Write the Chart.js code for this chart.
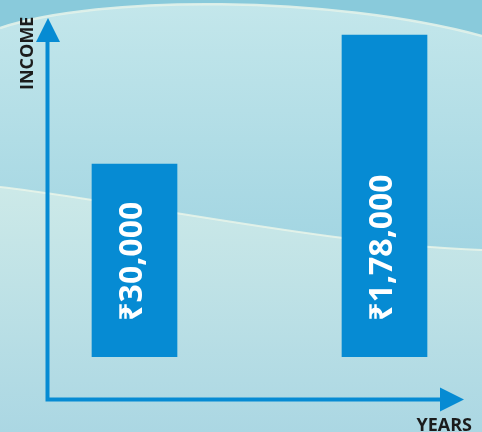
<!DOCTYPE html>
<html>
<head>
<meta charset="utf-8">
<script src="https://cdn.jsdelivr.net/npm/chart.js@4/dist/chart.umd.min.js"></script>
<style>
  html, body { margin: 0; padding: 0; background: #b4dde6; }
  canvas { display: block; }
</style>
</head>
<body>
<canvas id="incomeChart" width="482" height="432"></canvas>
<script>
let categories = ["Before", "After"];
let incomeValues = [30000, 178000];
let valueLabels = ["₹30,000", "₹1,78,000"];
let axisTitles = ["INCOME", "YEARS"];

const blue = "#068bd3";

// wavy light-blue backdrop
const backdrop = {
  id: "backdrop",
  beforeDraw(chart) {
    const ctx = chart.ctx;
    const w = chart.width, h = chart.height;
    ctx.save();

    let g = ctx.createLinearGradient(0, 0, 0, 250);
    g.addColorStop(0, "#c4e7eb");
    g.addColorStop(1, "#a2d5e2");
    ctx.fillStyle = g;
    ctx.fillRect(0, 0, w, h);

    // lower wave
    ctx.beginPath();
    ctx.moveTo(0, 187);
    ctx.bezierCurveTo(150, 205, 330, 245, w, 250);
    ctx.lineTo(w, h);
    ctx.lineTo(0, h);
    ctx.closePath();
    g = ctx.createLinearGradient(0, 190, 0, h);
    g.addColorStop(0, "#cce9e8");
    g.addColorStop(1, "#abd7e3");
    ctx.fillStyle = g;
    ctx.fill();

    ctx.beginPath();
    ctx.moveTo(0, 187);
    ctx.bezierCurveTo(150, 205, 330, 245, w, 250);
    ctx.strokeStyle = "rgba(236,246,234,0.8)";
    ctx.lineWidth = 2;
    ctx.stroke();

    // top band
    ctx.beginPath();
    ctx.moveTo(0, 28);
    ctx.bezierCurveTo(100, -5, 330, -5, w, 36);
    ctx.lineTo(w, 0);
    ctx.lineTo(0, 0);
    ctx.closePath();
    ctx.fillStyle = "#89cadb";
    ctx.fill();

    ctx.beginPath();
    ctx.moveTo(0, 28);
    ctx.bezierCurveTo(100, -5, 330, -5, w, 36);
    ctx.strokeStyle = "rgba(226,242,234,0.9)";
    ctx.lineWidth = 2.5;
    ctx.stroke();

    ctx.restore();
  },
};

// arrows, axis titles and the rotated value labels
const decorations = {
  id: "decorations",
  afterDatasetsDraw(chart) {
    const ctx = chart.ctx;
    ctx.save();

    ctx.strokeStyle = blue;
    ctx.fillStyle = blue;
    ctx.lineWidth = 4;
    ctx.beginPath();
    ctx.moveTo(47.5, 401.5);
    ctx.lineTo(47.5, 40);
    ctx.moveTo(45.5, 399.5);
    ctx.lineTo(442, 399.5);
    ctx.stroke();

    ctx.beginPath();
    ctx.moveTo(36, 42);
    ctx.lineTo(60, 42);
    ctx.lineTo(48, 18);
    ctx.closePath();
    ctx.fill();

    ctx.beginPath();
    ctx.moveTo(440, 387.5);
    ctx.lineTo(440, 411.5);
    ctx.lineTo(464, 399.5);
    ctx.closePath();
    ctx.fill();

    ctx.fillStyle = "#1c1c1c";
    ctx.font = "bold 18px 'Open Sans', 'Noto Sans', sans-serif";
    ctx.textBaseline = "alphabetic";
    ctx.save();
    ctx.translate(33, 90);
    ctx.rotate(-Math.PI / 2);
    ctx.textAlign = "left";
    ctx.fillText(axisTitles[0], 0, 0);
    ctx.restore();
    ctx.textAlign = "right";
    ctx.fillText(axisTitles[1], 472, 431);

    const meta = chart.getDatasetMeta(0);
    ctx.fillStyle = "#ffffff";
    ctx.font = "bold 32px 'Noto Sans', 'Open Sans', sans-serif";
    ctx.textAlign = "left";
    meta.data.forEach((bar, i) => {
      ctx.save();
      ctx.translate(bar.x + 7.5, bar.base - 36);
      ctx.rotate(-Math.PI / 2);
      ctx.fillText(valueLabels[i], 0, 0);
      ctx.restore();
    });

    ctx.restore();
  },
};

new Chart("incomeChart", {
  type: "bar",
  data: {
    labels: categories,
    datasets: [
      {
        data: incomeValues,
        backgroundColor: blue,
        barThickness: 85,
        clip: false,
      },
    ],
  },
  options: {
    responsive: false,
    devicePixelRatio: 1,
    animation: false,
    layout: { padding: { left: 134.5, right: 97.5, top: 35, bottom: 75.3 } },
    plugins: {
      legend: { display: false },
      tooltip: { enabled: false },
    },
    scales: {
      x: { display: false, offset: false },
      y: { type: "logarithmic", display: false, min: 2100, max: 178000 },
    },
  },
  plugins: [backdrop, decorations],
});
</script>
</body>
</html>
